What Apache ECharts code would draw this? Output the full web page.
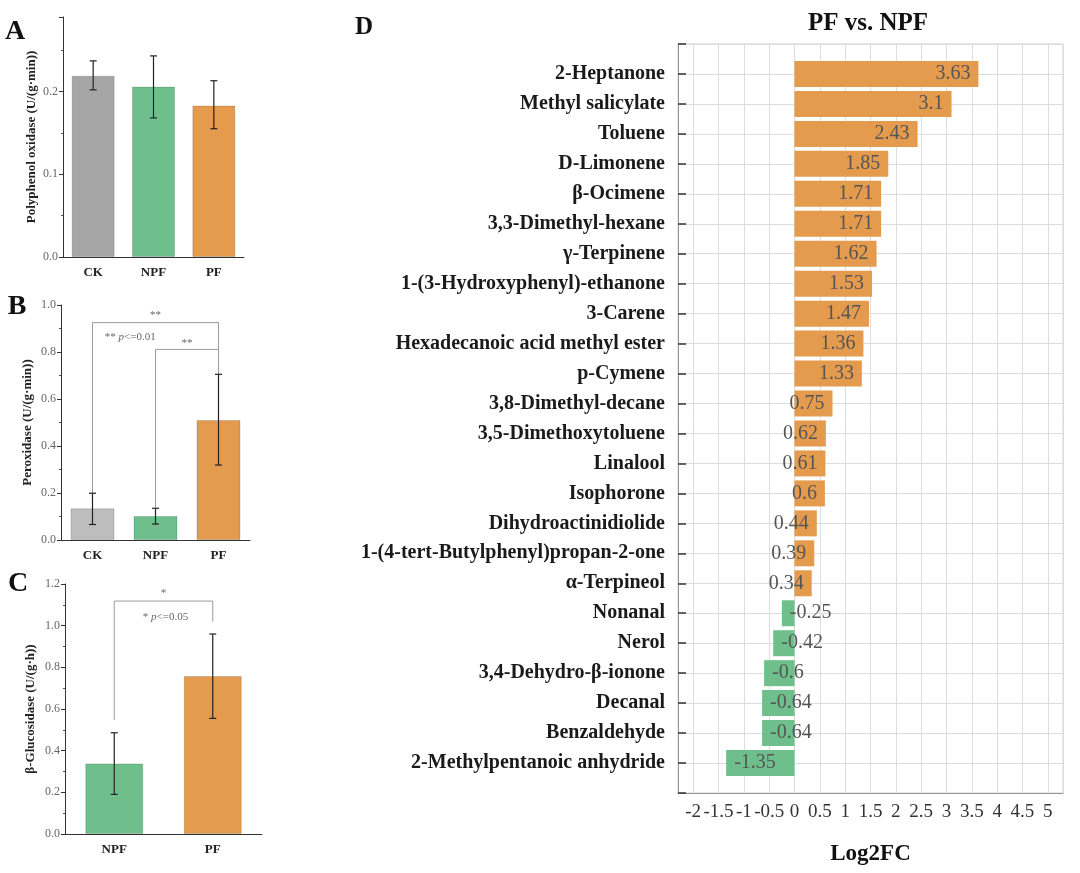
<!DOCTYPE html>
<html>
<head>
<meta charset="utf-8">
<script src="https://cdn.jsdelivr.net/npm/echarts@6/dist/echarts.min.js"></script>
<style>
html, body { margin: 0; background: #fff; }
#main { width: 1080px; height: 873px; }
</style>
</head>
<body>
<div id="main"></div>
<script>
var serif = '"Liberation Serif", "Times New Roman", serif';
var gray = '#a6a6a6', grayLight = '#bdbdbd', green = '#6ebf8b', orange = '#e49b4d';

// A: polyphenol oxidase
var groupsA = ['CK', 'NPF', 'PF'];
var meanA = [0.219, 0.206, 0.183];
var lowA = [0.202, 0.168, 0.155];
var highA = [0.237, 0.243, 0.213];

// B: peroxidase
var groupsB = ['CK', 'NPF', 'PF'];
var meanB = [0.135, 0.102, 0.511];
var lowB = [0.066, 0.068, 0.319];
var highB = [0.199, 0.135, 0.705];
// brackets: [from, to, top, leftEnd, rightEnd]
var bracketsB = [[0, 2, 0.925, 0.2, 0.705], [1, 2, 0.811, 0.138, 0.705]];
// notes: [group, value, text index, shift in groups]
var notesB = [[1, 0.957, 0, 0], [1, 0.838, 1, 0.5], [0, 0.862, 2, 0.6]];
var noteTextB = ['**', '**', '** {i|p}<=0.01'];

// C: beta-glucosidase
var groupsC = ['NPF', 'PF'];
var meanC = [0.339, 0.758];
var lowC = [0.19, 0.555];
var highC = [0.486, 0.96];
var bracketsC = [[0, 1, 1.118, 0.547, 1.019]];
var notesC = [[0, 1.157, 0, 0.5], [0, 1.042, 1, 0.52]];
var noteTextC = ['*', '* {i|p}<=0.05'];

// D: PF vs. NPF
var compounds = ['2-Heptanone', 'Methyl salicylate', 'Toluene', 'D-Limonene', 'β-Ocimene',
  '3,3-Dimethyl-hexane', 'γ-Terpinene', '1-(3-Hydroxyphenyl)-ethanone', '3-Carene',
  'Hexadecanoic acid methyl ester', 'p-Cymene', '3,8-Dimethyl-decane', '3,5-Dimethoxytoluene',
  'Linalool', 'Isophorone', 'Dihydroactinidiolide', '1-(4-tert-Butylphenyl)propan-2-one',
  'α-Terpineol', 'Nonanal', 'Nerol', '3,4-Dehydro-β-ionone', 'Decanal', 'Benzaldehyde',
  '2-Methylpentanoic anhydride'];
var log2fc = [3.63, 3.1, 2.43, 1.85, 1.71, 1.71, 1.62, 1.53, 1.47, 1.36, 1.33, 0.75, 0.62,
  0.61, 0.6, 0.44, 0.39, 0.34, -0.25, -0.42, -0.6, -0.64, -0.64, -1.35];

function errRender(params, api) {
  var x = api.value(0);
  var a = api.coord([x, api.value(1)]);
  var b = api.coord([x, api.value(2)]);
  var w = 3.5, st = { stroke: '#222', lineWidth: 1.2 };
  return { type: 'group', children: [
    { type: 'line', shape: { x1: a[0], y1: a[1], x2: b[0], y2: b[1] }, style: st },
    { type: 'line', shape: { x1: a[0] - w, y1: a[1], x2: a[0] + w, y2: a[1] }, style: st },
    { type: 'line', shape: { x1: b[0] - w, y1: b[1], x2: b[0] + w, y2: b[1] }, style: st }
  ] };
}

function bracketRender(params, api) {
  var x1 = api.value(0), x2 = api.value(1), top = api.value(2);
  var p1 = api.coord([x1, api.value(3)]), p2 = api.coord([x1, top]);
  var p3 = api.coord([x2, top]), p4 = api.coord([x2, api.value(4)]);
  return { type: 'polyline', shape: { points: [p1, p2, p3, p4] },
    style: { stroke: '#9a9a9a', lineWidth: 1, fill: null } };
}

function noteRender(texts) {
  return function (params, api) {
    var p = api.coord([api.value(0), api.value(1)]);
    var band = api.size([1, 0])[0];
    return { type: 'text', x: p[0] + api.value(3) * band, y: p[1], style: {
      text: texts[api.value(2)], align: 'center', verticalAlign: 'middle',
      fontFamily: serif, fontSize: 11, fill: '#666',
      rich: { i: { fontStyle: 'italic', fontFamily: serif, fontSize: 11, fill: '#666' } } } };
  };
}

function barData(vals, colors) {
  return vals.map(function (v, i) {
    return { value: v, itemStyle: { color: colors[i], borderColor: 'rgba(0,0,0,0.15)', borderWidth: 1 } };
  });
}

function errData(low, high) {
  return low.map(function (v, i) { return [i, v, high[i]]; });
}

function smallX(idx, cats) {
  return { gridIndex: idx, type: 'category', data: cats,
    axisLine: { lineStyle: { color: '#333' } },
    axisTick: { alignWithLabel: true, length: 4, lineStyle: { color: '#333' } },
    axisLabel: { fontFamily: serif, fontWeight: 'bold', fontSize: 13, color: '#222', margin: 9 } };
}

function smallY(idx, max, name, gap) {
  return { gridIndex: idx, type: 'value', min: 0, max: max, interval: idx === 0 ? 0.1 : 0.2,
    axisLine: { show: true, lineStyle: { color: '#333' } },
    axisTick: { show: true, length: 4, lineStyle: { color: '#333' } },
    minorTick: { show: true, splitNumber: 2, length: 2, lineStyle: { color: '#555' } },
    splitLine: { show: false },
    axisLabel: { fontFamily: serif, fontSize: 12, color: '#666', margin: 5, showMaxLabel: idx !== 0,
      formatter: function (v) { return v.toFixed(1); } },
    name: name, nameLocation: 'middle', nameGap: gap,
    nameTextStyle: { fontFamily: serif, fontWeight: 'bold', fontSize: 13, color: '#222' } };
}

var catsD = [''].concat(compounds, ['']);
var dataD = ['-'].concat(log2fc.map(function (v) {
  return { value: v, itemStyle: { color: v >= 0 ? orange : green },
    label: { position: v >= 0 ? 'insideRight' : 'insideLeft' } };
}), ['-']);

var chart = echarts.init(document.getElementById('main'));
chart.setOption({
  animation: false,
  backgroundColor: '#fff',
  graphic: [
    { type: 'text', x: 15, y: 32, style: { text: 'A', align: 'center', verticalAlign: 'middle', font: 'bold 28px ' + serif, fill: '#111' } },
    { type: 'text', x: 17, y: 307, style: { text: 'B', align: 'center', verticalAlign: 'middle', font: 'bold 28px ' + serif, fill: '#111' } },
    { type: 'text', x: 18, y: 584, style: { text: 'C', align: 'center', verticalAlign: 'middle', font: 'bold 28px ' + serif, fill: '#111' } },
    { type: 'text', x: 364, y: 28, style: { text: 'D', align: 'center', verticalAlign: 'middle', font: 'bold 25px ' + serif, fill: '#111' } },
    { type: 'text', x: 868, y: 24, style: { text: 'PF vs. NPF', align: 'center', verticalAlign: 'middle', font: 'bold 25px ' + serif, fill: '#111' } }
  ],
  grid: [
    { left: 63, top: 17, width: 181, height: 240 },
    { left: 61, top: 305, width: 189, height: 235 },
    { left: 65, top: 584, width: 197, height: 250 },
    { left: 678, top: 44, width: 385, height: 749, show: true, borderColor: '#cfcfcf', borderWidth: 1 }
  ],
  xAxis: [
    smallX(0, groupsA), smallX(1, groupsB), smallX(2, groupsC),
    { gridIndex: 3, type: 'value', min: -2.3, max: 5.3, splitNumber: 15, minInterval: 0.5, maxInterval: 0.5,
      axisLine: { show: true, onZero: false, lineStyle: { color: '#999' } },
      axisTick: { inside: true, length: 8, lineStyle: { color: '#333', width: 1.2 } },
      axisLabel: { showMinLabel: false, showMaxLabel: false, hideOverlap: false,
        fontFamily: serif, fontSize: 19, color: '#333', margin: 10 },
      splitLine: { show: true, lineStyle: { color: '#dcdcdc' } },
      name: 'Log2FC', nameLocation: 'middle', nameGap: 50,
      nameTextStyle: { fontFamily: serif, fontWeight: 'bold', fontSize: 23, color: '#111' } }
  ],
  yAxis: [
    smallY(0, 0.29, 'Polyphenol oxidase (U/(g·min))', 25),
    smallY(1, 1.0, 'Peroxidase (U/(g·min))', 27),
    smallY(2, 1.2, 'β-Glucosidase (U/(g·h))', 28),
    { gridIndex: 3, type: 'category', data: catsD, inverse: true, boundaryGap: false,
      axisLine: { onZero: false, lineStyle: { color: '#999' } },
      axisTick: { inside: true, length: 8, interval: 0, lineStyle: { color: '#333', width: 1.5 } },
      axisLabel: { interval: 0, fontFamily: serif, fontWeight: 'bold', fontSize: 20, color: '#1a1a1a', margin: 13 },
      splitLine: { show: true, interval: 0, lineStyle: { color: '#dcdcdc' } } }
  ],
  series: [
    { type: 'bar', xAxisIndex: 0, yAxisIndex: 0, barWidth: 43, data: barData(meanA, [gray, green, orange]) },
    { type: 'custom', xAxisIndex: 0, yAxisIndex: 0, renderItem: errRender, data: errData(lowA, highA), z: 5 },
    { type: 'bar', xAxisIndex: 1, yAxisIndex: 1, barWidth: 44, data: barData(meanB, [grayLight, green, orange]) },
    { type: 'custom', xAxisIndex: 1, yAxisIndex: 1, renderItem: errRender, data: errData(lowB, highB), z: 5 },
    { type: 'custom', xAxisIndex: 1, yAxisIndex: 1, renderItem: bracketRender, data: bracketsB, z: 4 },
    { type: 'custom', xAxisIndex: 1, yAxisIndex: 1, renderItem: noteRender(noteTextB), data: notesB, z: 6 },
    { type: 'bar', xAxisIndex: 2, yAxisIndex: 2, barWidth: 58, data: barData(meanC, [green, orange]) },
    { type: 'custom', xAxisIndex: 2, yAxisIndex: 2, renderItem: errRender, data: errData(lowC, highC), z: 5 },
    { type: 'custom', xAxisIndex: 2, yAxisIndex: 2, renderItem: bracketRender, data: bracketsC, z: 4 },
    { type: 'custom', xAxisIndex: 2, yAxisIndex: 2, renderItem: noteRender(noteTextC), data: notesC, z: 6 },
    { type: 'bar', xAxisIndex: 3, yAxisIndex: 3, barWidth: 26, data: dataD,
      label: { show: true, distance: 8, fontFamily: serif, fontSize: 20, color: '#555' } }
  ]
});
</script>
</body>
</html>
